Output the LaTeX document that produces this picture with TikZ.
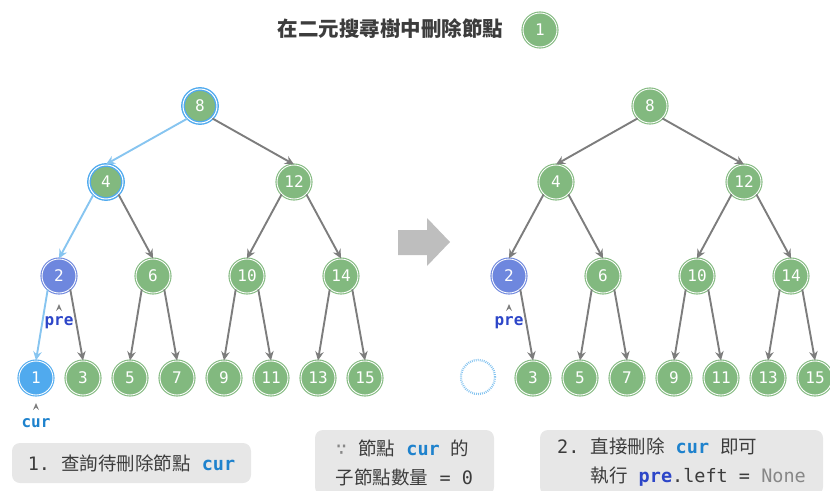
\documentclass[tikz,border=0pt]{standalone}
\usepackage{fontspec}
\setmainfont{DejaVu Sans Mono}
\newfontfamily\cjk{Noto Sans CJK TC}
\usetikzlibrary{arrows.meta,positioning,calc}
\definecolor{nodegreen}{RGB}{130,185,127}
\definecolor{hlblue}{RGB}{80,170,238}
\definecolor{edgeblue}{RGB}{135,197,240}
\definecolor{curblue}{RGB}{30,130,205}
\definecolor{prenode}{RGB}{110,135,222}
\definecolor{pretext}{RGB}{45,70,200}
\definecolor{edgegray}{RGB}{125,125,125}
\definecolor{boxgray}{RGB}{231,231,231}
\definecolor{txtgray}{RGB}{60,60,60}
\definecolor{nonegray}{RGB}{135,135,135}
\definecolor{bigarrow}{RGB}{190,190,190}
\newcommand{\kw}[2]{{\bfseries\color{#1}#2}}

\begin{document}
\begin{tikzpicture}[
      x=1pt,y=-1pt,
      vtx/.style={circle,minimum size=34pt,inner sep=0pt,fill=nodegreen,draw=nodegreen,
                  double=white,line width=1.1pt,double distance=0.9pt,text=white,
                  font=\fontsize{16}{16}\selectfont},
      hl/.style={draw=hlblue,line width=1.4pt,double distance=1pt},
      prevtx/.style={fill=prenode,draw=prenode},
      curvtx/.style={fill=hlblue,draw=hlblue},
      gone/.style={circle,minimum size=34pt,inner sep=0pt,draw=edgeblue,line width=2.2pt,
                  dash pattern=on 0.9pt off 1.1pt},
      ar/.style={-{Stealth[length=9pt,width=8.5pt,inset=3pt]},draw=edgegray,line width=1.9pt},
      arhl/.style={ar,draw=edgeblue},
      ptr/.style={font=\fontsize{16}{16}\selectfont\bfseries,inner sep=0pt},
      notebox/.style={fill=boxgray,rounded corners=8pt,align=left,text=txtgray,
                  font=\fontsize{18.5}{29}\selectfont,inner sep=0pt}
    ]
    \useasboundingbox (0,0) rectangle (830,490);

    % title
    \node[anchor=east,text=txtgray,font=\cjk\bfseries\fontsize{20.5}{20.5}\selectfont] (title) at (507,29) {在二元搜尋樹中刪除節點};
    \node[vtx] (tnum) at (540,30) {1};

    % left tree
    \foreach \n/\x/\y in {12/294/182,6/153/276,10/247/276,14/341/276,
                          3/83/378,5/130/378,7/177/378,9/224/378,11/271/378,13/318/378,15/365/378}
      \node[vtx] (l\n) at (\x,\y) {\n};
    \node[vtx,hl] (l8) at (200,106) {8};
    \node[vtx,hl] (l4) at (106,182) {4};
    \node[vtx,prevtx] (l2) at (59,276) {2};
    \node[vtx,curvtx] (l1) at (36,378) {1};

    \foreach \p/\c/\a in {8/12/-45,4/6/-45,12/10/-135,12/14/-45,2/3/-50,6/5/-130,6/7/-50,
                          10/9/-130,10/11/-50,14/13/-130,14/15/-50}
      \draw[ar] (l\p.\a) -- (l\c.north);
    \draw[arhl] (l8.-135) -- (l4.north);
    \draw[arhl] (l4.-135) -- (l2.north);
    \draw[arhl] (l2.-130) -- (l1.north);

    \node[ptr,text=pretext] (lpre) at (59,323) {pre};
    \node[ptr,text=curblue] (lcur) at (36,423) {cur};
    \fill[edgegray] ([yshift=19pt]lpre.center) -- ++(3,7) -- ++(-3,-2.5) -- ++(-3,2.5) -- cycle;
    \fill[edgegray] ([yshift=20pt]lcur.center) -- ++(3,7) -- ++(-3,-2.5) -- ++(-3,2.5) -- cycle;

    % step arrow
    \fill[bigarrow] (398,230) -- (427,230) -- (427,218) -- (450,242) -- (427,266) -- (427,255) -- (398,255) -- cycle;

    % right tree
    \foreach \n/\x/\y in {8/200/106,4/106/182,12/294/182,6/153/276,10/247/276,14/341/276,
                          3/83/378,5/130/378,7/177/378,9/224/378,11/271/378,13/318/378,15/365/378}
      \node[vtx] (r\n) at (\x+450,\y) {\n};
    \node[vtx,prevtx] (r2) at (509,276) {2};
    \node[gone] (r1) at (478,377) {};

    \foreach \p/\c/\a in {8/4/-135,8/12/-45,4/2/-135,4/6/-45,12/10/-135,12/14/-45,2/3/-50,
                          6/5/-130,6/7/-50,10/9/-130,10/11/-50,14/13/-130,14/15/-50}
      \draw[ar] (r\p.\a) -- (r\c.north);

    \node[ptr,text=pretext] (rpre) at (509,323) {pre};
    \fill[edgegray] ([yshift=19pt]rpre.center) -- ++(3,7) -- ++(-3,-2.5) -- ++(-3,2.5) -- cycle;

    % notes
    \node[notebox,minimum width=239pt,minimum height=40pt] (note1) at (131.5,463)
      {1.\ {\cjk 查詢待刪除節點}\ \kw{curblue}{cur}};
    \node[notebox,minimum width=179pt,minimum height=65pt] (note2) at (404.5,462.5)
      {{\color{nonegray}∵}\ {\cjk 節點}\ \kw{curblue}{cur}\ {\cjk 的}\\{\cjk 子節點數量}\ =\ 0};
    \node[notebox,minimum width=283pt,minimum height=65pt] (note3) at (681.5,462.5)
      {2.\ {\cjk 直接刪除}\ \kw{curblue}{cur}\ {\cjk 即可}\\\phantom{2.\ }{\cjk 執行}\ \kw{pretext}{pre}.left\ =\ {\color{nonegray}None}};
  \end{tikzpicture}
\end{document}
